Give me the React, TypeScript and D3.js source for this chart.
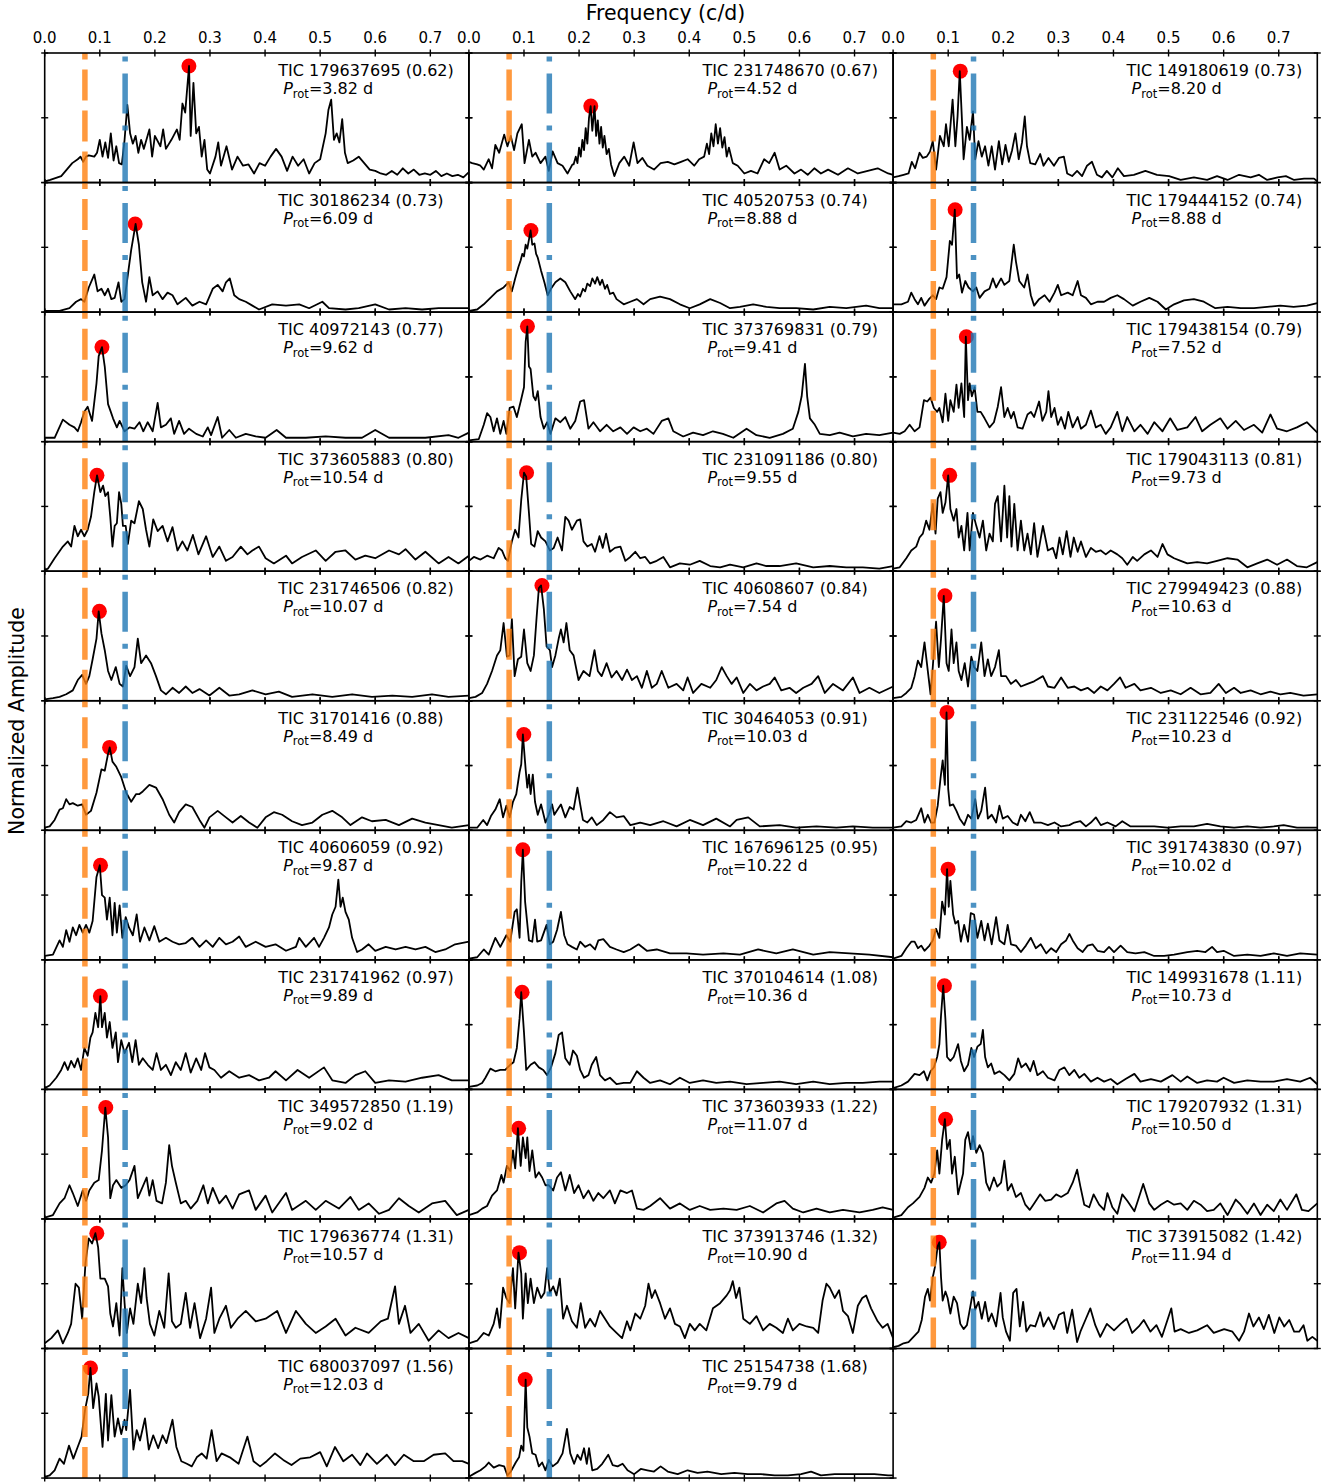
import React from 'react'
import * as d3 from 'd3'

// periodograms, [frequency (c/d), normalized amplitude]
const tic179637695 = [[0,0.01],[0.01,0.02],[0.03,0.05],[0.04,0.1],[0.05,0.15],[0.06,0.18],[0.065,0.2],[0.07,0.16],[0.075,0.2],[0.08,0.21],[0.09,0.2],[0.095,0.23],[0.1,0.33],[0.105,0.2],[0.11,0.31],[0.115,0.19],[0.12,0.38],[0.125,0.17],[0.13,0.28],[0.135,0.15],[0.14,0.14],[0.145,0.33],[0.15,0.6],[0.155,0.38],[0.16,0.3],[0.165,0.36],[0.17,0.23],[0.175,0.33],[0.18,0.26],[0.19,0.41],[0.195,0.2],[0.2,0.36],[0.21,0.28],[0.215,0.41],[0.22,0.26],[0.23,0.33],[0.24,0.41],[0.245,0.33],[0.25,0.61],[0.255,0.54],[0.262,0.9],[0.265,0.36],[0.27,0.77],[0.275,0.38],[0.28,0.43],[0.285,0.2],[0.29,0.33],[0.295,0.1],[0.3,0.07],[0.31,0.2],[0.315,0.31],[0.32,0.13],[0.33,0.28],[0.34,0.1],[0.35,0.2],[0.36,0.13],[0.37,0.14],[0.38,0.07],[0.39,0.15],[0.4,0.13],[0.41,0.2],[0.42,0.26],[0.43,0.2],[0.44,0.09],[0.45,0.2],[0.46,0.13],[0.47,0.18],[0.48,0.07],[0.49,0.15],[0.5,0.18],[0.51,0.38],[0.515,0.56],[0.52,0.64],[0.525,0.33],[0.53,0.38],[0.535,0.31],[0.54,0.49],[0.545,0.23],[0.55,0.15],[0.56,0.17],[0.57,0.2],[0.58,0.15],[0.59,0.1],[0.6,0.09],[0.61,0.07],[0.62,0.06],[0.63,0.09],[0.64,0.06],[0.65,0.11],[0.66,0.07],[0.67,0.1],[0.68,0.06],[0.69,0.07],[0.7,0.06],[0.71,0.09],[0.72,0.05],[0.73,0.07],[0.74,0.05],[0.75,0.06],[0.76,0.04],[0.77,0.08]]
const tic30186234 = [[0,0.01],[0.027,0.01],[0.045,0.03],[0.057,0.08],[0.066,0.1],[0.072,0.08],[0.08,0.19],[0.09,0.29],[0.096,0.16],[0.103,0.18],[0.109,0.13],[0.115,0.18],[0.121,0.1],[0.127,0.11],[0.134,0.23],[0.139,0.08],[0.145,0.1],[0.151,0.29],[0.157,0.48],[0.165,0.68],[0.171,0.52],[0.177,0.23],[0.184,0.08],[0.19,0.27],[0.196,0.13],[0.205,0.16],[0.214,0.1],[0.223,0.15],[0.232,0.13],[0.241,0.06],[0.256,0.11],[0.268,0.05],[0.281,0.08],[0.293,0.06],[0.305,0.18],[0.314,0.21],[0.323,0.16],[0.329,0.23],[0.336,0.26],[0.344,0.13],[0.353,0.1],[0.365,0.08],[0.377,0.05],[0.389,0.02],[0.413,0.06],[0.438,0.05],[0.462,0.06],[0.48,0.03],[0.504,0.08],[0.516,0.03],[0.546,0.02],[0.57,0.03],[0.6,0.06],[0.625,0.02],[0.655,0.03],[0.685,0.02],[0.715,0.03],[0.77,0.03]]
const tic40972143 = [[0,0.03],[0.018,0.03],[0.033,0.17],[0.045,0.13],[0.054,0.11],[0.06,0.08],[0.066,0.15],[0.072,0.23],[0.078,0.27],[0.086,0.16],[0.094,0.45],[0.098,0.66],[0.104,0.73],[0.109,0.58],[0.115,0.29],[0.12,0.23],[0.124,0.18],[0.131,0.11],[0.136,0.16],[0.145,0.08],[0.154,0.11],[0.163,0.1],[0.172,0.15],[0.179,0.08],[0.187,0.15],[0.196,0.08],[0.205,0.3],[0.211,0.11],[0.22,0.13],[0.229,0.18],[0.235,0.06],[0.244,0.16],[0.253,0.06],[0.262,0.1],[0.275,0.06],[0.287,0.04],[0.296,0.11],[0.302,0.05],[0.314,0.19],[0.322,0.03],[0.335,0.09],[0.347,0.03],[0.365,0.06],[0.383,0.04],[0.401,0.03],[0.421,0.09],[0.438,0.03],[0.474,0.03],[0.51,0.04],[0.546,0.03],[0.576,0.03],[0.6,0.09],[0.625,0.03],[0.655,0.03],[0.691,0.03],[0.733,0.05],[0.751,0.03],[0.77,0.07]]
const tic373605883 = [[0,0.01],[0.006,0.02],[0.018,0.1],[0.033,0.19],[0.042,0.23],[0.048,0.19],[0.054,0.35],[0.06,0.27],[0.066,0.32],[0.072,0.27],[0.078,0.32],[0.084,0.42],[0.09,0.61],[0.095,0.74],[0.101,0.61],[0.106,0.66],[0.11,0.58],[0.115,0.61],[0.119,0.42],[0.123,0.19],[0.127,0.35],[0.131,0.37],[0.135,0.61],[0.139,0.52],[0.142,0.35],[0.147,0.35],[0.151,0.21],[0.157,0.39],[0.163,0.37],[0.171,0.54],[0.178,0.48],[0.184,0.32],[0.19,0.19],[0.197,0.4],[0.205,0.31],[0.214,0.35],[0.223,0.23],[0.232,0.34],[0.241,0.16],[0.25,0.23],[0.259,0.16],[0.269,0.28],[0.279,0.13],[0.293,0.27],[0.305,0.11],[0.317,0.19],[0.329,0.08],[0.341,0.11],[0.356,0.19],[0.368,0.13],[0.377,0.16],[0.389,0.19],[0.401,0.1],[0.416,0.06],[0.438,0.12],[0.449,0.06],[0.467,0.11],[0.492,0.16],[0.51,0.08],[0.528,0.15],[0.546,0.16],[0.564,0.09],[0.582,0.12],[0.6,0.1],[0.625,0.16],[0.643,0.13],[0.655,0.17],[0.673,0.09],[0.691,0.15],[0.715,0.06],[0.733,0.11],[0.751,0.06],[0.77,0.12]]
const tic231746506 = [[0,0.01],[0.015,0.02],[0.027,0.03],[0.039,0.05],[0.051,0.08],[0.06,0.16],[0.068,0.2],[0.075,0.13],[0.081,0.19],[0.087,0.32],[0.094,0.48],[0.098,0.69],[0.103,0.52],[0.109,0.39],[0.115,0.23],[0.121,0.16],[0.129,0.26],[0.136,0.13],[0.142,0.11],[0.148,0.27],[0.155,0.19],[0.163,0.26],[0.169,0.48],[0.175,0.29],[0.184,0.35],[0.193,0.29],[0.202,0.19],[0.211,0.08],[0.22,0.05],[0.232,0.1],[0.244,0.06],[0.256,0.11],[0.268,0.06],[0.281,0.09],[0.299,0.04],[0.317,0.1],[0.335,0.04],[0.353,0.05],[0.377,0.08],[0.401,0.05],[0.425,0.07],[0.449,0.03],[0.486,0.05],[0.522,0.03],[0.558,0.05],[0.594,0.03],[0.631,0.04],[0.667,0.03],[0.703,0.05],[0.733,0.03],[0.77,0.04]]
const tic31701416 = [[0,0.02],[0.009,0.03],[0.018,0.08],[0.027,0.16],[0.033,0.17],[0.039,0.24],[0.045,0.2],[0.051,0.21],[0.06,0.19],[0.068,0.2],[0.075,0.12],[0.084,0.15],[0.094,0.29],[0.103,0.47],[0.109,0.46],[0.115,0.59],[0.118,0.64],[0.123,0.53],[0.13,0.49],[0.139,0.41],[0.148,0.29],[0.157,0.22],[0.166,0.28],[0.172,0.28],[0.178,0.3],[0.19,0.35],[0.202,0.33],[0.214,0.24],[0.226,0.12],[0.235,0.06],[0.244,0.14],[0.256,0.2],[0.268,0.18],[0.281,0.08],[0.29,0.02],[0.299,0.1],[0.314,0.15],[0.329,0.1],[0.341,0.06],[0.356,0.11],[0.371,0.06],[0.386,0.02],[0.401,0.1],[0.416,0.14],[0.431,0.12],[0.449,0.07],[0.467,0.04],[0.486,0.06],[0.504,0.12],[0.522,0.15],[0.54,0.1],[0.555,0.04],[0.576,0.1],[0.594,0.07],[0.619,0.08],[0.643,0.04],[0.667,0.09],[0.691,0.06],[0.715,0.04],[0.739,0.02],[0.77,0.04]]
const tic40606059 = [[0,0.03],[0.015,0.04],[0.027,0.15],[0.033,0.1],[0.039,0.23],[0.045,0.14],[0.051,0.25],[0.057,0.19],[0.063,0.27],[0.069,0.21],[0.075,0.27],[0.081,0.21],[0.087,0.3],[0.094,0.64],[0.1,0.73],[0.104,0.5],[0.109,0.48],[0.113,0.31],[0.118,0.48],[0.123,0.19],[0.127,0.44],[0.131,0.21],[0.136,0.42],[0.141,0.17],[0.147,0.33],[0.153,0.25],[0.16,0.19],[0.167,0.35],[0.173,0.14],[0.181,0.25],[0.19,0.15],[0.199,0.26],[0.208,0.14],[0.22,0.17],[0.232,0.14],[0.244,0.12],[0.256,0.13],[0.268,0.17],[0.281,0.1],[0.293,0.15],[0.305,0.1],[0.317,0.17],[0.329,0.12],[0.341,0.14],[0.353,0.18],[0.365,0.1],[0.383,0.14],[0.401,0.1],[0.419,0.12],[0.438,0.07],[0.456,0.1],[0.462,0.17],[0.474,0.1],[0.489,0.17],[0.498,0.1],[0.507,0.17],[0.516,0.25],[0.522,0.35],[0.528,0.41],[0.533,0.62],[0.537,0.41],[0.541,0.48],[0.546,0.37],[0.552,0.31],[0.558,0.17],[0.567,0.06],[0.576,0.08],[0.588,0.12],[0.6,0.07],[0.619,0.1],[0.637,0.08],[0.655,0.1],[0.673,0.08],[0.691,0.1],[0.709,0.06],[0.727,0.08],[0.745,0.12],[0.77,0.14]]
const tic231741962 = [[0,0.01],[0.009,0.03],[0.021,0.09],[0.03,0.15],[0.036,0.21],[0.042,0.15],[0.048,0.22],[0.054,0.17],[0.06,0.24],[0.066,0.15],[0.072,0.32],[0.078,0.26],[0.083,0.4],[0.087,0.44],[0.092,0.59],[0.097,0.48],[0.101,0.72],[0.104,0.48],[0.109,0.59],[0.113,0.4],[0.118,0.52],[0.123,0.32],[0.129,0.44],[0.133,0.21],[0.139,0.38],[0.145,0.28],[0.153,0.36],[0.159,0.21],[0.165,0.38],[0.171,0.19],[0.178,0.24],[0.187,0.19],[0.196,0.15],[0.203,0.28],[0.211,0.15],[0.22,0.19],[0.229,0.11],[0.238,0.21],[0.247,0.15],[0.256,0.28],[0.265,0.13],[0.275,0.24],[0.284,0.15],[0.291,0.28],[0.299,0.17],[0.308,0.15],[0.32,0.09],[0.335,0.14],[0.353,0.09],[0.371,0.11],[0.389,0.07],[0.407,0.09],[0.419,0.14],[0.438,0.07],[0.459,0.15],[0.48,0.09],[0.507,0.17],[0.522,0.07],[0.546,0.05],[0.564,0.11],[0.582,0.14],[0.6,0.05],[0.625,0.07],[0.655,0.06],[0.685,0.09],[0.715,0.11],[0.739,0.07],[0.77,0.07]]
const tic349572850 = [[0,0.01],[0.015,0.03],[0.027,0.12],[0.036,0.16],[0.045,0.26],[0.051,0.2],[0.06,0.1],[0.069,0.22],[0.075,0.14],[0.081,0.22],[0.09,0.28],[0.098,0.3],[0.104,0.53],[0.11,0.86],[0.115,0.63],[0.119,0.16],[0.124,0.26],[0.13,0.3],[0.139,0.24],[0.147,0.26],[0.154,0.3],[0.163,0.41],[0.169,0.16],[0.175,0.22],[0.185,0.32],[0.19,0.18],[0.196,0.3],[0.203,0.14],[0.213,0.12],[0.22,0.28],[0.226,0.57],[0.231,0.41],[0.238,0.28],[0.247,0.12],[0.256,0.14],[0.265,0.08],[0.277,0.14],[0.288,0.26],[0.296,0.12],[0.305,0.24],[0.317,0.12],[0.329,0.18],[0.341,0.08],[0.353,0.19],[0.371,0.22],[0.383,0.07],[0.401,0.18],[0.413,0.05],[0.438,0.2],[0.449,0.07],[0.474,0.14],[0.492,0.07],[0.51,0.14],[0.534,0.08],[0.555,0.17],[0.57,0.07],[0.588,0.12],[0.607,0.04],[0.625,0.07],[0.643,0.16],[0.661,0.1],[0.679,0.05],[0.703,0.12],[0.727,0.14],[0.748,0.03],[0.77,0.07]]
const tic179636774 = [[0,0.04],[0.012,0.08],[0.024,0.14],[0.033,0.04],[0.042,0.12],[0.048,0.19],[0.056,0.5],[0.062,0.47],[0.068,0.23],[0.074,0.66],[0.08,0.85],[0.086,0.81],[0.092,0.89],[0.097,0.78],[0.101,0.54],[0.109,0.54],[0.115,0.48],[0.119,0.27],[0.124,0.17],[0.13,0.35],[0.136,0.1],[0.141,0.62],[0.145,0.35],[0.149,0.12],[0.155,0.31],[0.161,0.19],[0.169,0.5],[0.175,0.35],[0.181,0.62],[0.185,0.39],[0.191,0.19],[0.199,0.1],[0.208,0.29],[0.217,0.16],[0.225,0.58],[0.231,0.21],[0.238,0.16],[0.247,0.19],[0.256,0.43],[0.264,0.16],[0.272,0.35],[0.282,0.08],[0.293,0.23],[0.302,0.47],[0.308,0.12],[0.317,0.23],[0.329,0.33],[0.338,0.16],[0.35,0.23],[0.365,0.29],[0.383,0.21],[0.401,0.23],[0.422,0.29],[0.438,0.12],[0.456,0.29],[0.474,0.19],[0.492,0.12],[0.51,0.17],[0.528,0.23],[0.546,0.1],[0.564,0.16],[0.588,0.12],[0.61,0.21],[0.623,0.23],[0.636,0.48],[0.643,0.19],[0.654,0.33],[0.664,0.12],[0.679,0.19],[0.697,0.06],[0.715,0.14],[0.733,0.08],[0.751,0.12],[0.77,0.08]]
const tic680037097 = [[0,0.01],[0.009,0.02],[0.018,0.06],[0.027,0.15],[0.035,0.11],[0.044,0.25],[0.052,0.15],[0.059,0.23],[0.067,0.32],[0.073,0.52],[0.079,0.65],[0.083,0.85],[0.088,0.54],[0.094,0.73],[0.098,0.63],[0.105,0.24],[0.111,0.65],[0.115,0.29],[0.121,0.64],[0.127,0.32],[0.133,0.46],[0.139,0.34],[0.145,0.45],[0.148,0.37],[0.155,0.68],[0.161,0.22],[0.167,0.37],[0.173,0.29],[0.182,0.46],[0.189,0.22],[0.197,0.33],[0.206,0.23],[0.214,0.33],[0.221,0.27],[0.232,0.45],[0.239,0.24],[0.248,0.13],[0.258,0.11],[0.267,0.09],[0.276,0.16],[0.285,0.19],[0.294,0.15],[0.303,0.37],[0.312,0.13],[0.321,0.19],[0.336,0.16],[0.352,0.11],[0.368,0.32],[0.379,0.13],[0.391,0.09],[0.403,0.13],[0.418,0.19],[0.433,0.14],[0.448,0.1],[0.464,0.15],[0.482,0.16],[0.5,0.2],[0.512,0.09],[0.527,0.24],[0.542,0.13],[0.558,0.18],[0.573,0.1],[0.585,0.19],[0.603,0.11],[0.621,0.18],[0.636,0.1],[0.652,0.18],[0.67,0.13],[0.688,0.13],[0.706,0.18],[0.727,0.19],[0.742,0.13],[0.758,0.13],[0.77,0.11]]
const tic231748670 = [[0,0.16],[0.006,0.15],[0.015,0.14],[0.021,0.13],[0.027,0.1],[0.036,0.18],[0.042,0.11],[0.048,0.29],[0.055,0.23],[0.064,0.37],[0.07,0.28],[0.076,0.36],[0.082,0.25],[0.088,0.38],[0.096,0.45],[0.101,0.15],[0.109,0.33],[0.115,0.2],[0.121,0.23],[0.13,0.15],[0.139,0.2],[0.145,0.09],[0.152,0.24],[0.161,0.15],[0.17,0.13],[0.179,0.07],[0.188,0.14],[0.19,0.14],[0.194,0.2],[0.197,0.15],[0.2,0.27],[0.203,0.2],[0.206,0.33],[0.209,0.25],[0.212,0.42],[0.215,0.3],[0.218,0.5],[0.221,0.59],[0.224,0.4],[0.228,0.59],[0.231,0.36],[0.234,0.48],[0.237,0.3],[0.24,0.43],[0.243,0.27],[0.246,0.36],[0.25,0.22],[0.254,0.26],[0.258,0.14],[0.264,0.05],[0.273,0.15],[0.282,0.2],[0.291,0.13],[0.299,0.31],[0.306,0.15],[0.315,0.19],[0.324,0.13],[0.336,0.1],[0.348,0.15],[0.361,0.16],[0.373,0.14],[0.385,0.16],[0.397,0.18],[0.409,0.13],[0.418,0.18],[0.427,0.2],[0.432,0.3],[0.436,0.22],[0.44,0.38],[0.444,0.28],[0.448,0.45],[0.452,0.3],[0.456,0.42],[0.46,0.27],[0.464,0.35],[0.468,0.2],[0.472,0.27],[0.479,0.15],[0.488,0.13],[0.5,0.07],[0.512,0.09],[0.524,0.07],[0.536,0.18],[0.545,0.15],[0.555,0.23],[0.564,0.1],[0.576,0.13],[0.591,0.07],[0.603,0.1],[0.615,0.06],[0.627,0.11],[0.639,0.07],[0.652,0.1],[0.67,0.06],[0.688,0.11],[0.706,0.07],[0.724,0.09],[0.742,0.11],[0.761,0.07],[0.77,0.06]]
const tic40520753 = [[0,0.01],[0.015,0.02],[0.027,0.06],[0.039,0.11],[0.051,0.16],[0.063,0.19],[0.072,0.23],[0.078,0.16],[0.084,0.26],[0.09,0.35],[0.094,0.4],[0.097,0.45],[0.1,0.43],[0.103,0.52],[0.106,0.49],[0.109,0.56],[0.112,0.63],[0.115,0.52],[0.119,0.53],[0.122,0.45],[0.125,0.42],[0.131,0.32],[0.137,0.23],[0.143,0.13],[0.149,0.18],[0.157,0.23],[0.166,0.26],[0.175,0.23],[0.184,0.16],[0.193,0.1],[0.198,0.14],[0.202,0.12],[0.207,0.18],[0.211,0.16],[0.215,0.22],[0.22,0.2],[0.224,0.26],[0.229,0.22],[0.233,0.27],[0.238,0.21],[0.242,0.25],[0.247,0.18],[0.251,0.21],[0.256,0.14],[0.262,0.15],[0.268,0.1],[0.281,0.06],[0.293,0.08],[0.305,0.1],[0.317,0.06],[0.329,0.1],[0.347,0.12],[0.365,0.1],[0.383,0.06],[0.401,0.03],[0.419,0.06],[0.438,0.1],[0.456,0.07],[0.474,0.03],[0.492,0.04],[0.516,0.06],[0.54,0.04],[0.564,0.03],[0.594,0.03],[0.625,0.02],[0.655,0.04],[0.685,0.03],[0.721,0.05],[0.745,0.03],[0.77,0.03]]
const tic373769831 = [[0,0.01],[0.018,0.02],[0.027,0.13],[0.033,0.22],[0.039,0.19],[0.045,0.08],[0.051,0.18],[0.057,0.06],[0.063,0.16],[0.068,0.06],[0.074,0.26],[0.081,0.27],[0.087,0.19],[0.094,0.31],[0.1,0.42],[0.103,0.77],[0.106,0.89],[0.109,0.58],[0.112,0.56],[0.117,0.35],[0.121,0.32],[0.125,0.39],[0.13,0.19],[0.136,0.1],[0.142,0.15],[0.148,0.06],[0.157,0.18],[0.166,0.15],[0.175,0.19],[0.184,0.1],[0.193,0.16],[0.202,0.31],[0.209,0.32],[0.217,0.1],[0.226,0.15],[0.238,0.08],[0.25,0.13],[0.262,0.08],[0.275,0.11],[0.287,0.06],[0.299,0.11],[0.311,0.08],[0.323,0.1],[0.335,0.06],[0.35,0.16],[0.362,0.18],[0.371,0.08],[0.389,0.04],[0.407,0.07],[0.425,0.05],[0.443,0.08],[0.461,0.06],[0.48,0.03],[0.504,0.1],[0.522,0.05],[0.546,0.03],[0.57,0.06],[0.588,0.1],[0.598,0.23],[0.604,0.35],[0.61,0.6],[0.614,0.35],[0.619,0.18],[0.628,0.13],[0.637,0.06],[0.655,0.05],[0.673,0.07],[0.697,0.04],[0.721,0.06],[0.745,0.05],[0.77,0.07]]
const tic231091186 = [[0,0.08],[0.009,0.11],[0.021,0.09],[0.033,0.12],[0.045,0.1],[0.054,0.18],[0.06,0.16],[0.066,0.1],[0.071,0.08],[0.078,0.23],[0.084,0.32],[0.09,0.26],[0.095,0.55],[0.1,0.76],[0.104,0.73],[0.109,0.45],[0.113,0.21],[0.119,0.19],[0.125,0.31],[0.131,0.26],[0.139,0.23],[0.147,0.16],[0.154,0.18],[0.161,0.26],[0.169,0.16],[0.175,0.42],[0.181,0.39],[0.187,0.32],[0.196,0.39],[0.202,0.4],[0.208,0.23],[0.215,0.19],[0.223,0.21],[0.229,0.15],[0.237,0.27],[0.243,0.18],[0.249,0.29],[0.256,0.15],[0.265,0.18],[0.275,0.19],[0.284,0.08],[0.293,0.11],[0.302,0.15],[0.311,0.1],[0.32,0.11],[0.329,0.06],[0.341,0.08],[0.353,0.11],[0.365,0.03],[0.383,0.06],[0.401,0.05],[0.419,0.08],[0.438,0.04],[0.456,0.03],[0.474,0.05],[0.498,0.03],[0.522,0.06],[0.54,0.04],[0.564,0.04],[0.594,0.06],[0.625,0.03],[0.655,0.04],[0.685,0.03],[0.715,0.03],[0.745,0.02],[0.77,0.04]]
const tic40608607 = [[0,0.02],[0.012,0.03],[0.024,0.06],[0.033,0.13],[0.042,0.23],[0.051,0.35],[0.057,0.39],[0.063,0.6],[0.069,0.34],[0.074,0.35],[0.078,0.63],[0.083,0.19],[0.089,0.32],[0.095,0.34],[0.1,0.55],[0.106,0.29],[0.112,0.23],[0.118,0.35],[0.123,0.65],[0.127,0.87],[0.131,0.89],[0.136,0.71],[0.141,0.42],[0.147,0.39],[0.151,0.26],[0.157,0.35],[0.163,0.48],[0.167,0.55],[0.172,0.45],[0.177,0.6],[0.183,0.39],[0.19,0.35],[0.199,0.16],[0.208,0.23],[0.219,0.19],[0.228,0.39],[0.234,0.23],[0.241,0.19],[0.25,0.29],[0.259,0.18],[0.268,0.23],[0.278,0.16],[0.287,0.24],[0.296,0.16],[0.305,0.19],[0.314,0.1],[0.323,0.23],[0.332,0.1],[0.341,0.13],[0.35,0.23],[0.362,0.1],[0.377,0.13],[0.389,0.08],[0.397,0.18],[0.407,0.06],[0.422,0.13],[0.438,0.1],[0.449,0.16],[0.459,0.26],[0.468,0.19],[0.477,0.13],[0.486,0.18],[0.498,0.06],[0.51,0.13],[0.522,0.08],[0.534,0.11],[0.546,0.13],[0.555,0.18],[0.567,0.08],[0.582,0.1],[0.594,0.06],[0.607,0.1],[0.622,0.13],[0.634,0.19],[0.646,0.06],[0.661,0.13],[0.679,0.08],[0.697,0.18],[0.709,0.06],[0.727,0.1],[0.745,0.06],[0.77,0.11]]
const tic30464053 = [[0,0.02],[0.015,0.02],[0.026,0.08],[0.033,0.04],[0.04,0.11],[0.048,0.16],[0.056,0.24],[0.062,0.1],[0.068,0.19],[0.074,0.1],[0.08,0.22],[0.086,0.28],[0.092,0.45],[0.095,0.51],[0.098,0.74],[0.103,0.47],[0.106,0.33],[0.109,0.43],[0.112,0.28],[0.116,0.43],[0.12,0.22],[0.125,0.12],[0.131,0.2],[0.139,0.06],[0.145,0.12],[0.151,0.2],[0.155,0.12],[0.161,0.16],[0.167,0.2],[0.175,0.1],[0.183,0.18],[0.19,0.16],[0.197,0.33],[0.202,0.2],[0.207,0.08],[0.215,0.06],[0.223,0.1],[0.232,0.04],[0.244,0.08],[0.256,0.14],[0.268,0.1],[0.281,0.11],[0.293,0.04],[0.311,0.06],[0.329,0.04],[0.353,0.07],[0.377,0.03],[0.401,0.08],[0.425,0.04],[0.449,0.09],[0.474,0.03],[0.486,0.08],[0.507,0.1],[0.528,0.03],[0.564,0.04],[0.594,0.02],[0.631,0.03],[0.667,0.02],[0.697,0.03],[0.733,0.02],[0.77,0.02]]
const tic167696125 = [[0,0.01],[0.015,0.02],[0.027,0.08],[0.036,0.04],[0.048,0.17],[0.057,0.1],[0.068,0.19],[0.075,0.14],[0.083,0.37],[0.087,0.39],[0.092,0.17],[0.095,0.6],[0.098,0.85],[0.102,0.45],[0.109,0.15],[0.115,0.14],[0.12,0.31],[0.124,0.14],[0.131,0.15],[0.136,0.21],[0.141,0.27],[0.147,0.12],[0.153,0.14],[0.16,0.23],[0.167,0.37],[0.173,0.19],[0.179,0.12],[0.187,0.1],[0.196,0.08],[0.202,0.14],[0.211,0.1],[0.22,0.12],[0.229,0.08],[0.235,0.15],[0.244,0.16],[0.256,0.1],[0.268,0.08],[0.281,0.06],[0.293,0.08],[0.308,0.12],[0.323,0.07],[0.341,0.08],[0.365,0.05],[0.395,0.05],[0.425,0.04],[0.462,0.05],[0.492,0.04],[0.525,0.08],[0.558,0.05],[0.588,0.08],[0.625,0.04],[0.655,0.06],[0.691,0.05],[0.727,0.04],[0.77,0.02]]
const tic370104614 = [[0,0.02],[0.015,0.03],[0.024,0.05],[0.03,0.09],[0.039,0.16],[0.048,0.14],[0.057,0.15],[0.066,0.15],[0.075,0.19],[0.081,0.21],[0.087,0.32],[0.092,0.55],[0.095,0.75],[0.1,0.44],[0.104,0.15],[0.112,0.19],[0.119,0.21],[0.127,0.17],[0.135,0.15],[0.142,0.11],[0.149,0.17],[0.157,0.28],[0.163,0.42],[0.169,0.44],[0.175,0.24],[0.183,0.19],[0.189,0.3],[0.196,0.26],[0.202,0.15],[0.209,0.09],[0.217,0.11],[0.223,0.19],[0.231,0.25],[0.238,0.11],[0.247,0.07],[0.256,0.09],[0.268,0.04],[0.281,0.05],[0.293,0.05],[0.305,0.14],[0.317,0.09],[0.329,0.05],[0.347,0.07],[0.365,0.04],[0.383,0.09],[0.401,0.05],[0.425,0.07],[0.449,0.05],[0.474,0.06],[0.504,0.04],[0.534,0.05],[0.564,0.06],[0.594,0.04],[0.625,0.06],[0.655,0.04],[0.685,0.05],[0.715,0.05],[0.745,0.06],[0.77,0.06]]
const tic373603933 = [[0,0.03],[0.015,0.05],[0.024,0.08],[0.033,0.1],[0.042,0.18],[0.051,0.22],[0.059,0.34],[0.063,0.28],[0.069,0.41],[0.075,0.37],[0.08,0.53],[0.084,0.39],[0.089,0.7],[0.094,0.41],[0.098,0.63],[0.103,0.47],[0.106,0.63],[0.11,0.37],[0.115,0.53],[0.121,0.32],[0.127,0.36],[0.133,0.32],[0.139,0.26],[0.145,0.26],[0.153,0.22],[0.16,0.32],[0.167,0.36],[0.175,0.22],[0.183,0.34],[0.191,0.2],[0.199,0.26],[0.208,0.16],[0.217,0.22],[0.226,0.14],[0.235,0.2],[0.244,0.16],[0.256,0.22],[0.265,0.12],[0.275,0.22],[0.287,0.2],[0.296,0.22],[0.305,0.08],[0.317,0.07],[0.329,0.1],[0.347,0.16],[0.365,0.08],[0.383,0.12],[0.401,0.07],[0.419,0.1],[0.438,0.07],[0.462,0.08],[0.486,0.07],[0.51,0.1],[0.534,0.05],[0.558,0.12],[0.573,0.14],[0.588,0.08],[0.607,0.05],[0.631,0.08],[0.655,0.05],[0.679,0.07],[0.709,0.05],[0.733,0.07],[0.751,0.09],[0.77,0.07]]
const tic373913746 = [[0,0.04],[0.015,0.06],[0.027,0.12],[0.036,0.1],[0.045,0.19],[0.051,0.31],[0.056,0.16],[0.062,0.47],[0.068,0.39],[0.074,0.35],[0.08,0.62],[0.084,0.31],[0.09,0.74],[0.095,0.58],[0.098,0.23],[0.103,0.58],[0.107,0.35],[0.112,0.54],[0.118,0.35],[0.124,0.47],[0.131,0.39],[0.137,0.43],[0.142,0.62],[0.147,0.43],[0.153,0.48],[0.159,0.41],[0.165,0.54],[0.171,0.23],[0.178,0.33],[0.187,0.21],[0.196,0.16],[0.203,0.35],[0.211,0.16],[0.22,0.23],[0.229,0.17],[0.238,0.29],[0.247,0.23],[0.256,0.17],[0.268,0.12],[0.278,0.08],[0.287,0.21],[0.293,0.14],[0.302,0.27],[0.311,0.23],[0.32,0.33],[0.326,0.5],[0.332,0.39],[0.338,0.45],[0.347,0.35],[0.356,0.23],[0.365,0.31],[0.374,0.19],[0.383,0.17],[0.392,0.08],[0.401,0.19],[0.41,0.14],[0.419,0.19],[0.431,0.14],[0.443,0.31],[0.456,0.35],[0.468,0.41],[0.474,0.45],[0.479,0.52],[0.485,0.39],[0.491,0.47],[0.498,0.23],[0.51,0.19],[0.522,0.25],[0.534,0.14],[0.546,0.19],[0.558,0.16],[0.57,0.12],[0.579,0.23],[0.588,0.14],[0.6,0.19],[0.613,0.17],[0.625,0.16],[0.634,0.12],[0.642,0.37],[0.649,0.5],[0.655,0.47],[0.664,0.39],[0.672,0.45],[0.679,0.29],[0.688,0.25],[0.697,0.12],[0.706,0.33],[0.714,0.39],[0.721,0.41],[0.73,0.31],[0.742,0.21],[0.751,0.16],[0.76,0.19],[0.77,0.08]]
const tic25154738 = [[0,0.01],[0.012,0.04],[0.021,0.06],[0.03,0.09],[0.036,0.12],[0.045,0.08],[0.055,0.1],[0.064,0.09],[0.07,0.02],[0.076,0.05],[0.085,0.12],[0.091,0.16],[0.095,0.25],[0.099,0.21],[0.103,0.76],[0.106,0.39],[0.11,0.32],[0.115,0.19],[0.121,0.18],[0.127,0.09],[0.133,0.12],[0.139,0.06],[0.145,0.14],[0.152,0.09],[0.161,0.12],[0.17,0.19],[0.178,0.38],[0.184,0.19],[0.191,0.11],[0.197,0.18],[0.203,0.14],[0.209,0.23],[0.214,0.11],[0.218,0.23],[0.224,0.06],[0.233,0.07],[0.242,0.11],[0.253,0.18],[0.261,0.1],[0.27,0.09],[0.279,0.11],[0.288,0.06],[0.3,0.03],[0.312,0.07],[0.324,0.06],[0.336,0.05],[0.348,0.09],[0.361,0.05],[0.379,0.03],[0.397,0.06],[0.415,0.04],[0.433,0.05],[0.458,0.03],[0.482,0.04],[0.506,0.03],[0.53,0.03],[0.555,0.02],[0.579,0.02],[0.603,0.03],[0.621,0.05],[0.639,0.02],[0.664,0.03],[0.688,0.03],[0.712,0.03],[0.736,0.03],[0.761,0.02],[0.77,0.02]]
const tic149180619 = [[0,0.04],[0.01,0.05],[0.019,0.06],[0.028,0.07],[0.034,0.16],[0.04,0.11],[0.048,0.23],[0.054,0.19],[0.061,0.2],[0.067,0.24],[0.072,0.32],[0.078,0.1],[0.085,0.36],[0.092,0.28],[0.096,0.45],[0.101,0.28],[0.108,0.64],[0.113,0.28],[0.117,0.51],[0.121,0.86],[0.125,0.48],[0.128,0.18],[0.134,0.43],[0.139,0.33],[0.145,0.55],[0.149,0.18],[0.155,0.32],[0.161,0.2],[0.167,0.28],[0.173,0.13],[0.179,0.28],[0.185,0.1],[0.192,0.32],[0.198,0.14],[0.204,0.29],[0.21,0.16],[0.216,0.25],[0.222,0.38],[0.228,0.18],[0.234,0.31],[0.239,0.51],[0.243,0.28],[0.249,0.15],[0.258,0.14],[0.267,0.22],[0.273,0.13],[0.282,0.19],[0.292,0.13],[0.301,0.19],[0.31,0.2],[0.316,0.07],[0.325,0.05],[0.334,0.09],[0.343,0.05],[0.352,0.13],[0.361,0.16],[0.37,0.06],[0.379,0.04],[0.388,0.09],[0.398,0.04],[0.408,0.11],[0.419,0.05],[0.437,0.06],[0.458,0.09],[0.479,0.06],[0.501,0.05],[0.522,0.02],[0.546,0.04],[0.57,0.02],[0.588,0.05],[0.607,0.02],[0.628,0.06],[0.649,0.04],[0.664,0.06],[0.679,0.02],[0.698,0.04],[0.713,0.05],[0.728,0.02],[0.746,0.03],[0.764,0.03],[0.77,0.01]]
const tic179444152 = [[0,0.06],[0.015,0.06],[0.027,0.08],[0.033,0.15],[0.039,0.1],[0.045,0.06],[0.051,0.11],[0.057,0.05],[0.065,0.1],[0.072,0.13],[0.078,0.1],[0.084,0.19],[0.09,0.18],[0.097,0.27],[0.103,0.55],[0.107,0.52],[0.112,0.79],[0.116,0.26],[0.12,0.29],[0.125,0.15],[0.131,0.24],[0.137,0.19],[0.145,0.16],[0.151,0.19],[0.157,0.11],[0.166,0.16],[0.175,0.18],[0.181,0.26],[0.187,0.19],[0.196,0.26],[0.202,0.21],[0.211,0.24],[0.219,0.52],[0.223,0.39],[0.229,0.24],[0.238,0.19],[0.244,0.29],[0.25,0.13],[0.256,0.05],[0.265,0.1],[0.275,0.13],[0.284,0.08],[0.293,0.15],[0.299,0.21],[0.305,0.13],[0.317,0.15],[0.326,0.13],[0.335,0.24],[0.341,0.13],[0.35,0.11],[0.359,0.06],[0.371,0.08],[0.383,0.08],[0.395,0.11],[0.407,0.13],[0.419,0.1],[0.435,0.05],[0.449,0.08],[0.465,0.11],[0.48,0.08],[0.495,0.02],[0.51,0.06],[0.528,0.09],[0.546,0.1],[0.564,0.08],[0.585,0.03],[0.607,0.04],[0.631,0.03],[0.655,0.03],[0.679,0.04],[0.703,0.05],[0.727,0.04],[0.751,0.05],[0.77,0.07]]
const tic179438154 = [[0,0.07],[0.012,0.06],[0.021,0.08],[0.03,0.13],[0.039,0.08],[0.048,0.11],[0.056,0.32],[0.062,0.31],[0.068,0.34],[0.074,0.26],[0.08,0.23],[0.084,0.26],[0.09,0.15],[0.095,0.37],[0.1,0.16],[0.104,0.32],[0.11,0.23],[0.115,0.44],[0.119,0.26],[0.124,0.45],[0.129,0.19],[0.132,0.81],[0.136,0.32],[0.139,0.45],[0.143,0.35],[0.148,0.42],[0.153,0.23],[0.159,0.23],[0.166,0.18],[0.175,0.11],[0.183,0.15],[0.19,0.27],[0.196,0.42],[0.202,0.19],[0.208,0.26],[0.214,0.18],[0.219,0.23],[0.226,0.11],[0.235,0.1],[0.244,0.21],[0.25,0.23],[0.256,0.19],[0.265,0.31],[0.271,0.16],[0.278,0.23],[0.282,0.39],[0.287,0.19],[0.293,0.26],[0.299,0.13],[0.305,0.19],[0.312,0.1],[0.318,0.23],[0.326,0.11],[0.335,0.19],[0.341,0.1],[0.35,0.13],[0.359,0.24],[0.368,0.11],[0.377,0.13],[0.386,0.06],[0.395,0.11],[0.407,0.23],[0.416,0.08],[0.425,0.19],[0.438,0.08],[0.449,0.13],[0.462,0.06],[0.474,0.15],[0.489,0.08],[0.503,0.18],[0.516,0.09],[0.534,0.11],[0.549,0.19],[0.561,0.08],[0.576,0.13],[0.594,0.18],[0.607,0.1],[0.622,0.16],[0.637,0.09],[0.655,0.13],[0.67,0.07],[0.685,0.21],[0.697,0.1],[0.715,0.08],[0.733,0.11],[0.751,0.15],[0.77,0.07]]
const tic179043113 = [[0,0.02],[0.012,0.03],[0.024,0.1],[0.033,0.16],[0.042,0.19],[0.048,0.26],[0.054,0.29],[0.06,0.39],[0.066,0.32],[0.072,0.52],[0.077,0.29],[0.081,0.56],[0.086,0.61],[0.09,0.45],[0.095,0.53],[0.1,0.74],[0.104,0.48],[0.11,0.39],[0.115,0.48],[0.119,0.26],[0.124,0.35],[0.129,0.16],[0.135,0.45],[0.139,0.16],[0.145,0.45],[0.151,0.35],[0.157,0.26],[0.163,0.39],[0.169,0.16],[0.175,0.29],[0.181,0.23],[0.185,0.52],[0.19,0.58],[0.196,0.23],[0.202,0.66],[0.207,0.26],[0.211,0.58],[0.215,0.19],[0.22,0.52],[0.226,0.16],[0.232,0.39],[0.238,0.16],[0.244,0.29],[0.25,0.13],[0.256,0.37],[0.262,0.11],[0.272,0.35],[0.281,0.16],[0.29,0.18],[0.296,0.1],[0.302,0.26],[0.308,0.13],[0.315,0.31],[0.322,0.11],[0.328,0.26],[0.335,0.15],[0.341,0.23],[0.35,0.11],[0.359,0.18],[0.368,0.15],[0.377,0.16],[0.386,0.13],[0.395,0.16],[0.407,0.13],[0.416,0.1],[0.425,0.05],[0.435,0.11],[0.443,0.08],[0.456,0.13],[0.468,0.16],[0.48,0.11],[0.489,0.21],[0.498,0.13],[0.51,0.1],[0.522,0.08],[0.534,0.06],[0.552,0.07],[0.57,0.06],[0.588,0.08],[0.607,0.1],[0.625,0.09],[0.643,0.03],[0.661,0.06],[0.679,0.09],[0.697,0.05],[0.715,0.09],[0.733,0.04],[0.751,0.03],[0.77,0.07]]
const tic279949423 = [[0,0.02],[0.015,0.03],[0.024,0.06],[0.033,0.1],[0.039,0.19],[0.045,0.31],[0.051,0.26],[0.057,0.45],[0.063,0.23],[0.068,0.05],[0.072,0.26],[0.078,0.61],[0.083,0.26],[0.087,0.48],[0.092,0.81],[0.097,0.29],[0.101,0.23],[0.106,0.55],[0.11,0.29],[0.115,0.45],[0.119,0.23],[0.124,0.16],[0.13,0.29],[0.136,0.11],[0.142,0.34],[0.147,0.26],[0.153,0.23],[0.16,0.45],[0.166,0.19],[0.172,0.32],[0.178,0.19],[0.185,0.26],[0.192,0.39],[0.196,0.19],[0.205,0.19],[0.214,0.13],[0.223,0.16],[0.232,0.11],[0.244,0.13],[0.256,0.15],[0.272,0.19],[0.281,0.11],[0.293,0.1],[0.305,0.18],[0.317,0.1],[0.329,0.11],[0.341,0.08],[0.353,0.1],[0.365,0.06],[0.377,0.11],[0.389,0.08],[0.401,0.13],[0.412,0.18],[0.422,0.1],[0.438,0.13],[0.449,0.08],[0.468,0.1],[0.486,0.06],[0.504,0.08],[0.522,0.05],[0.54,0.1],[0.558,0.05],[0.576,0.06],[0.591,0.13],[0.604,0.06],[0.619,0.1],[0.631,0.06],[0.649,0.08],[0.667,0.05],[0.685,0.07],[0.703,0.05],[0.721,0.06],[0.745,0.04],[0.77,0.05]]
const tic231122546 = [[0,0.02],[0.015,0.03],[0.024,0.07],[0.033,0.06],[0.042,0.08],[0.051,0.17],[0.057,0.06],[0.063,0.12],[0.069,0.06],[0.075,0.06],[0.081,0.19],[0.086,0.4],[0.09,0.54],[0.094,0.35],[0.097,0.91],[0.1,0.32],[0.103,0.19],[0.109,0.2],[0.115,0.15],[0.121,0.09],[0.129,0.04],[0.136,0.12],[0.142,0.09],[0.149,0.24],[0.154,0.09],[0.16,0.15],[0.167,0.33],[0.172,0.09],[0.179,0.12],[0.187,0.06],[0.193,0.19],[0.199,0.09],[0.208,0.11],[0.217,0.06],[0.226,0.04],[0.232,0.12],[0.24,0.07],[0.248,0.14],[0.256,0.06],[0.268,0.06],[0.281,0.04],[0.293,0.06],[0.305,0.03],[0.32,0.04],[0.329,0.06],[0.34,0.07],[0.35,0.03],[0.359,0.06],[0.368,0.1],[0.377,0.04],[0.389,0.06],[0.404,0.03],[0.416,0.07],[0.431,0.03],[0.449,0.03],[0.474,0.03],[0.498,0.02],[0.522,0.03],[0.546,0.03],[0.57,0.05],[0.594,0.03],[0.619,0.02],[0.643,0.03],[0.667,0.02],[0.691,0.03],[0.709,0.04],[0.733,0.02],[0.77,0.02]]
const tic391743830 = [[0,0.01],[0.015,0.03],[0.024,0.09],[0.033,0.14],[0.039,0.14],[0.045,0.09],[0.051,0.11],[0.057,0.07],[0.066,0.11],[0.072,0.15],[0.078,0.24],[0.084,0.17],[0.089,0.45],[0.094,0.35],[0.098,0.7],[0.101,0.41],[0.104,0.61],[0.109,0.35],[0.113,0.28],[0.118,0.3],[0.123,0.14],[0.129,0.27],[0.136,0.14],[0.141,0.36],[0.147,0.35],[0.153,0.17],[0.16,0.3],[0.166,0.15],[0.172,0.28],[0.179,0.12],[0.187,0.33],[0.193,0.15],[0.202,0.12],[0.208,0.27],[0.214,0.12],[0.223,0.11],[0.232,0.06],[0.241,0.11],[0.25,0.17],[0.259,0.09],[0.268,0.12],[0.278,0.05],[0.287,0.09],[0.296,0.06],[0.305,0.12],[0.314,0.15],[0.32,0.2],[0.326,0.15],[0.335,0.09],[0.344,0.06],[0.353,0.11],[0.362,0.12],[0.371,0.07],[0.383,0.06],[0.392,0.1],[0.401,0.06],[0.413,0.11],[0.425,0.06],[0.44,0.05],[0.456,0.06],[0.474,0.03],[0.492,0.03],[0.51,0.04],[0.522,0.05],[0.534,0.06],[0.552,0.07],[0.567,0.06],[0.579,0.1],[0.588,0.06],[0.6,0.07],[0.619,0.03],[0.643,0.04],[0.667,0.03],[0.691,0.05],[0.715,0.03],[0.739,0.05],[0.77,0.04]]
const tic149931678 = [[0,0.01],[0.015,0.03],[0.027,0.06],[0.039,0.12],[0.048,0.11],[0.056,0.14],[0.062,0.07],[0.068,0.14],[0.074,0.17],[0.08,0.25],[0.084,0.35],[0.087,0.57],[0.091,0.8],[0.095,0.54],[0.098,0.25],[0.104,0.22],[0.11,0.25],[0.118,0.35],[0.123,0.22],[0.129,0.14],[0.136,0.19],[0.142,0.32],[0.147,0.25],[0.153,0.33],[0.159,0.35],[0.163,0.46],[0.167,0.25],[0.172,0.17],[0.178,0.2],[0.184,0.12],[0.193,0.14],[0.202,0.11],[0.211,0.07],[0.22,0.12],[0.227,0.24],[0.233,0.17],[0.241,0.2],[0.249,0.14],[0.255,0.22],[0.262,0.11],[0.272,0.14],[0.281,0.09],[0.293,0.07],[0.302,0.15],[0.311,0.17],[0.32,0.11],[0.329,0.15],[0.338,0.09],[0.347,0.12],[0.359,0.06],[0.371,0.09],[0.383,0.06],[0.395,0.08],[0.407,0.04],[0.422,0.08],[0.438,0.12],[0.449,0.06],[0.468,0.08],[0.486,0.06],[0.507,0.11],[0.522,0.06],[0.534,0.1],[0.552,0.05],[0.57,0.07],[0.588,0.06],[0.6,0.09],[0.619,0.05],[0.643,0.07],[0.667,0.06],[0.691,0.06],[0.715,0.08],[0.739,0.06],[0.757,0.09],[0.77,0.04]]
const tic179207932 = [[0,0.01],[0.015,0.03],[0.027,0.09],[0.036,0.12],[0.048,0.17],[0.057,0.24],[0.063,0.32],[0.069,0.28],[0.075,0.35],[0.08,0.53],[0.084,0.35],[0.089,0.61],[0.094,0.77],[0.098,0.54],[0.103,0.61],[0.107,0.35],[0.112,0.48],[0.118,0.19],[0.123,0.28],[0.127,0.35],[0.131,0.61],[0.136,0.67],[0.141,0.54],[0.145,0.64],[0.151,0.51],[0.157,0.57],[0.163,0.51],[0.169,0.28],[0.175,0.22],[0.183,0.32],[0.189,0.25],[0.196,0.28],[0.202,0.45],[0.208,0.22],[0.215,0.27],[0.223,0.17],[0.232,0.2],[0.24,0.11],[0.248,0.07],[0.256,0.12],[0.267,0.19],[0.276,0.14],[0.287,0.15],[0.296,0.19],[0.305,0.17],[0.317,0.2],[0.326,0.28],[0.334,0.38],[0.34,0.25],[0.347,0.11],[0.356,0.09],[0.364,0.19],[0.374,0.11],[0.383,0.07],[0.389,0.2],[0.398,0.09],[0.407,0.04],[0.416,0.19],[0.425,0.14],[0.438,0.06],[0.445,0.15],[0.454,0.27],[0.465,0.12],[0.474,0.07],[0.486,0.11],[0.498,0.14],[0.51,0.11],[0.522,0.12],[0.534,0.07],[0.546,0.14],[0.558,0.11],[0.57,0.06],[0.582,0.07],[0.594,0.12],[0.607,0.03],[0.622,0.15],[0.631,0.11],[0.643,0.04],[0.655,0.12],[0.667,0.03],[0.679,0.11],[0.691,0.06],[0.703,0.15],[0.715,0.07],[0.732,0.19],[0.742,0.07],[0.754,0.06],[0.77,0.12]]
const tic373915082 = [[0,0.01],[0.01,0.02],[0.019,0.04],[0.028,0.05],[0.037,0.09],[0.046,0.13],[0.052,0.22],[0.058,0.4],[0.063,0.46],[0.067,0.37],[0.072,0.55],[0.076,0.63],[0.081,0.79],[0.084,0.82],[0.087,0.55],[0.09,0.37],[0.095,0.44],[0.099,0.39],[0.104,0.27],[0.11,0.4],[0.116,0.35],[0.122,0.19],[0.128,0.15],[0.134,0.18],[0.14,0.32],[0.145,0.44],[0.149,0.3],[0.155,0.36],[0.161,0.23],[0.167,0.36],[0.173,0.21],[0.179,0.27],[0.187,0.17],[0.195,0.43],[0.199,0.24],[0.205,0.13],[0.212,0.06],[0.218,0.43],[0.224,0.46],[0.23,0.17],[0.236,0.36],[0.242,0.13],[0.249,0.18],[0.258,0.17],[0.267,0.28],[0.273,0.17],[0.282,0.24],[0.292,0.15],[0.301,0.26],[0.31,0.28],[0.316,0.12],[0.325,0.3],[0.334,0.05],[0.34,0.13],[0.349,0.22],[0.358,0.31],[0.367,0.18],[0.376,0.09],[0.388,0.19],[0.401,0.14],[0.413,0.19],[0.424,0.23],[0.434,0.12],[0.446,0.17],[0.455,0.22],[0.467,0.13],[0.478,0.18],[0.488,0.09],[0.498,0.22],[0.505,0.31],[0.511,0.13],[0.522,0.15],[0.537,0.12],[0.552,0.14],[0.57,0.18],[0.582,0.12],[0.601,0.15],[0.616,0.13],[0.628,0.06],[0.637,0.13],[0.646,0.27],[0.654,0.17],[0.664,0.24],[0.673,0.15],[0.682,0.26],[0.692,0.12],[0.701,0.24],[0.71,0.17],[0.719,0.22],[0.728,0.13],[0.737,0.13],[0.745,0.18],[0.752,0.06],[0.761,0.09],[0.77,0.06]]

// panel order (row by row), value in brackets and rotation period
const ticIds = ['179637695','231748670','149180619','30186234','40520753','179444152','40972143','373769831','179438154','373605883','231091186','179043113','231746506','40608607','279949423','31701416','30464053','231122546','40606059','167696125','391743830','231741962','370104614','149931678','349572850','373603933','179207932','179636774','373913746','373915082','680037097','25154738']
const ratios = [0.62,0.67,0.73,0.73,0.74,0.74,0.77,0.79,0.79,0.80,0.80,0.81,0.82,0.84,0.88,0.88,0.91,0.92,0.92,0.95,0.97,0.97,1.08,1.11,1.19,1.22,1.31,1.31,1.32,1.42,1.56,1.68]
const prots = [3.82,4.52,8.20,6.09,8.88,8.88,9.62,9.41,7.52,10.54,9.55,9.73,10.07,7.54,10.63,8.49,10.03,10.23,9.87,10.22,10.02,9.89,10.36,10.73,9.02,11.07,10.50,10.57,10.90,11.94,12.03,9.79]
const spectra = [tic179637695,tic231748670,tic149180619,tic30186234,tic40520753,tic179444152,tic40972143,tic373769831,tic179438154,tic373605883,tic231091186,tic179043113,tic231746506,tic40608607,tic279949423,tic31701416,tic30464053,tic231122546,tic40606059,tic167696125,tic391743830,tic231741962,tic370104614,tic149931678,tic349572850,tic373603933,tic179207932,tic179636774,tic373913746,tic373915082,tic680037097,tic25154738]
const xTicks = [0, 0.1, 0.2, 0.3, 0.4, 0.5, 0.6, 0.7]
const orbitFreq = 1 / 13.7

const W = 1331
const H = 1482
const left = 44.7
const top = 53
const colW = 424.2
const rowH = 129.55
const font = 'DejaVu Sans, sans-serif'

const App = () => {
  const x = d3.scaleLinear().domain([0, 0.77]).range([0, colW])
  const y = d3.scaleLinear().domain([0, 1]).range([rowH, 0])
  const line = d3.line<number[]>().x(d => x(d[0])).y(d => y(d[1]))

  return (
    <svg width={W} height={H} style={{ position: 'absolute', left: 0, top: 0, background: '#fff' }} fontFamily={font}>
      <text x={665.5} y={20} fontSize={20.5} textAnchor="middle">Frequency (c/d)</text>
      <text transform={`translate(24,721) rotate(-90)`} fontSize={20.5} textAnchor="middle">Normalized Amplitude</text>
      {spectra.map((data, i) => {
        const row = Math.floor(i / 3)
        const col = i % 3
        const f0 = 1 / prots[i]
        const near = data.filter(d => Math.abs(d[0] - f0) < 0.006)
        const peak = d3.max(near, d => d[1]) ?? 0
        return (
          <g key={ticIds[i]} transform={`translate(${left + col * colW},${top + row * rowH})`}>
            <circle cx={x(f0)} cy={y(peak)} r={7.5} fill="#ff0000" />
            <path d={line(data) ?? ''} fill="none" stroke="#000" strokeWidth={1.8} strokeLinejoin="round" />
            <line x1={x(orbitFreq)} x2={x(orbitFreq)} y1={rowH} y2={0} stroke="#ff7f0e" strokeOpacity={0.8} strokeWidth={5.5} strokeDasharray="31 10" />
            <line x1={x(2 * orbitFreq)} x2={x(2 * orbitFreq)} y1={rowH} y2={0} stroke="#1f77b4" strokeOpacity={0.8} strokeWidth={5.5} strokeDasharray="40 12 5 12" />
            <rect x={0} y={0} width={colW} height={rowH} fill="none" stroke="#000" strokeWidth={1.6} />
            {xTicks.map(t => (
              <g key={t}>
                <line x1={x(t)} x2={x(t)} y1={-3.5} y2={3.5} stroke="#000" strokeWidth={1.4} />
                <line x1={x(t)} x2={x(t)} y1={rowH - 3.5} y2={rowH + 3.5} stroke="#000" strokeWidth={1.4} />
                {row === 0 && <text x={x(t)} y={-10} fontSize={15} textAnchor="middle">{t.toFixed(1)}</text>}
              </g>
            ))}
            {[0, 0.5, 1].map(t => (
              <g key={t}>
                <line x1={-3.5} x2={3.5} y1={y(t)} y2={y(t)} stroke="#000" strokeWidth={1.4} />
                <line x1={colW - 3.5} x2={colW + 3.5} y1={y(t)} y2={y(t)} stroke="#000" strokeWidth={1.4} />
              </g>
            ))}
            <text x={233.5} y={23} fontSize={16}>{`TIC ${ticIds[i]} (${ratios[i].toFixed(2)})`}</text>
            <text x={238.5} y={41} fontSize={16}>
              <tspan fontStyle="italic">P</tspan>
              <tspan fontSize={11.5} dy={3.5}>rot</tspan>
              <tspan dy={-3.5}>{`=${prots[i].toFixed(2)} d`}</tspan>
            </text>
          </g>
        )
      })}
    </svg>
  )
}

export default App
